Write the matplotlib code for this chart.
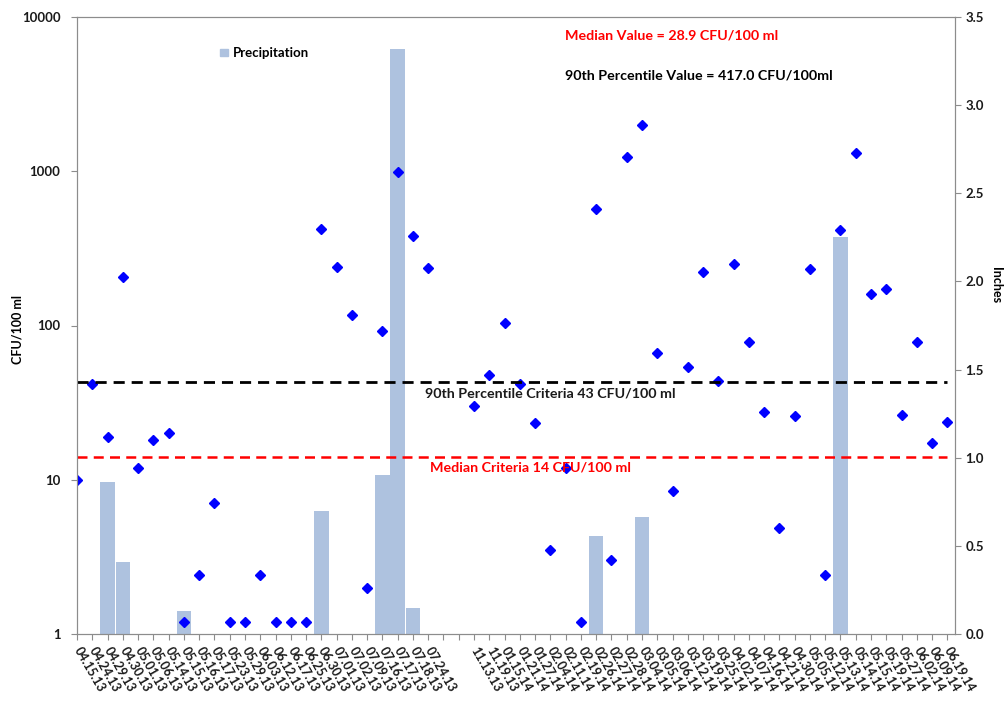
import numpy as np
import matplotlib.pyplot as plt
from matplotlib.patches import Patch
from matplotlib.ticker import FixedLocator, NullLocator

plt.rcParams['font.family'] = ['Lato', 'DejaVu Sans']
plt.rcParams['font.weight'] = 'bold'

# sampling dates (two empty slots between the 2013 and 2013/14 runs)
dates = ['04.15.13', '04.24.13', '04.29.13', '04.30.13', '05.01.13', '05.06.13',
         '05.14.13', '05.15.13', '05.16.13', '05.17.13', '05.23.13', '05.29.13',
         '06.03.13', '06.12.13', '06.17.13', '06.25.13', '06.30.13', '07.01.13',
         '07.02.13', '07.09.13', '07.16.13', '07.17.13', '07.18.13', '07.24.13',
         '', '',
         '11.13.13', '11.19.13', '01.15.14', '01.21.14', '01.27.14', '02.04.14',
         '02.11.14', '02.19.14', '02.26.14', '02.27.14', '02.28.14', '03.04.14',
         '03.05.14', '03.06.14', '03.12.14', '03.19.14', '03.25.14', '04.02.14',
         '04.07.14', '04.16.14', '04.21.14', '04.30.14', '05.05.14', '05.12.14',
         '05.13.14', '05.14.14', '05.15.14', '05.19.14', '05.27.14', '06.02.14',
         '06.09.14', '06.19.14']

# bacteria counts, CFU/100 ml
cfu = [10, 42, 19, 206, 12, 18,
       20, 1.2, 2.4, 7.1, 1.2, 1.2,
       2.4, 1.2, 1.2, 1.2, 420, 239,
       117, 2.0, 92, 990, 380, 237,
       np.nan, np.nan,
       30, 48, 104, 42, 23.5, 3.5,
       12, 1.2, 570, 3.0, 1240, 2000,
       66, 8.4, 54, 222, 43.5, 251,
       78, 27.4, 4.85, 26, 233, 2.4,
       415, 1306, 159, 172, 26.3, 78,
       17.3, 23.7]

# precipitation, inches
precip = [0, 0, 0.86, 0.41, 0, 0,
          0, 0.13, 0, 0, 0, 0,
          0, 0, 0, 0, 0.70, 0,
          0, 0, 0.90, 3.32, 0.15, 0,
          0, 0,
          0, 0, 0, 0, 0, 0,
          0, 0, 0.556, 0, 0, 0.665,
          0, 0, 0, 0, 0, 0,
          0, 0, 0, 0, 0, 0,
          2.25, 0, 0, 0, 0, 0,
          0, 0]

median_criteria = 14
p90_criteria = 43
median_value = 28.9
p90_value = 417.0

bar_color = '#aec2df'
frame_color = '#8c8c8c'
x = np.arange(len(dates))

fig = plt.figure(figsize=(10.08, 7.06), dpi=100)
ax = fig.add_axes([77 / 1008, 1 - 634 / 706, 878 / 1008, 617 / 706])
ax2 = ax.twinx()

# precipitation bars on the right axis, drawn behind the counts
ax2.bar(x, precip, width=0.95, color=bar_color, linewidth=0)
ax2.set_ylim(0, 3.5)
ax2.set_yticks(np.arange(0, 3.51, 0.5))
ax2.set_yticklabels([f'{v:.1f}' for v in np.arange(0, 3.51, 0.5)])
ax.set_zorder(ax2.get_zorder() + 1)
ax.patch.set_visible(False)

ax.plot(x, cfu, linestyle='none', marker='D', markersize=5.5, color='#0000ff')
ax.hlines(p90_criteria, 0, 57, colors='black', linestyles=(0, (4, 2.5)), linewidth=2)
ax.hlines(median_criteria, 0, 57, colors='#ff0000', linestyles=(0, (4, 2.5)), linewidth=1.8)

ax.set_yscale('log')
ax.set_ylim(1, 10000)
ax.yaxis.set_major_locator(FixedLocator([1, 10, 100, 1000, 10000]))
ax.yaxis.set_minor_locator(NullLocator())
ax.set_yticklabels(['1', '10', '100', '1000', '10000'])
ax.set_xlim(0, 57.5)
ax.set_xticks(x)
ax.set_xticklabels(dates, rotation=-60, ha='left', va='center', rotation_mode='anchor')

for a in (ax, ax2):
    for s in a.spines.values():
        s.set_color(frame_color)
    a.tick_params(length=4, color=frame_color, labelsize=9.5, labelcolor='#1a1a1a')
ax.tick_params(axis='y', pad=8)
ax.tick_params(axis='x', labelsize=9, pad=6)

ax.legend(handles=[Patch(color=bar_color, label='Precipitation')],
          loc='center left', bbox_to_anchor=(220 / 1008, 1 - 53 / 706),
          bbox_transform=fig.transFigure, frameon=False, fontsize=9.5,
          handlelength=0.6, handleheight=0.45, handletextpad=0.4,
          borderpad=0, borderaxespad=0)

fig.text(565 / 1008, 1 - 36 / 706, f'Median Value = {median_value:.1f} CFU/100 ml',
         color='#ff0000', va='center', fontsize=10.3)
fig.text(565 / 1008, 1 - 75 / 706, f'90th Percentile Value = {p90_value:.1f} CFU/100ml',
         color='black', va='center', fontsize=10.3)
fig.text(425 / 1008, 1 - 394 / 706, f'90th Percentile Criteria {p90_criteria} CFU/100 ml',
         color='#1a1a1a', va='center', fontsize=10.3)
fig.text(430 / 1008, 1 - 467 / 706, f'Median Criteria {median_criteria} CFU/100 ml',
         color='#ff0000', va='center', fontsize=10.3)

fig.text(17 / 1008, 1 - 330 / 706, 'CFU/100 ml', rotation=90, ha='center', va='center', fontsize=9)
fig.text(996 / 1008, 1 - 285 / 706, 'Inches', rotation=270, ha='center', va='center', fontsize=9)

fig.savefig('out.png', dpi=100)
